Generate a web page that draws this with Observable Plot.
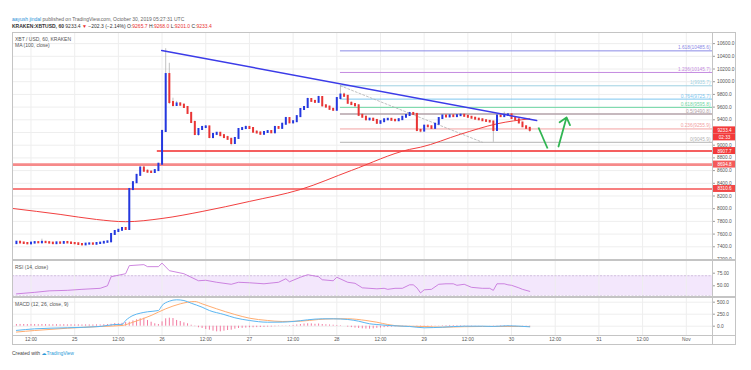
<!DOCTYPE html>
<html>
<head>
<meta charset="utf-8">
<script src="https://cdn.jsdelivr.net/npm/d3@7"></script>
<script src="https://cdn.jsdelivr.net/npm/@observablehq/plot@0.6"></script>
<style>
html,body{margin:0;padding:0;background:#fff;}
#root{position:relative;width:751px;height:370px;overflow:hidden;font-family:"Liberation Sans",Arial,sans-serif;}
.txt{position:absolute;white-space:nowrap;font-size:5px;line-height:6px;}
.pane{position:absolute;left:0;}
.ln{position:absolute;background:#c4c4c4;pointer-events:none;}
.red{color:#e8322f;}
</style>
</head>
<body>
<div id="root">
  <div class="txt" style="left:12px;top:16px;color:#666"><span style="color:#2b8fd6">aayush jindal</span> published on TradingView.com, October 30, 2019 05:27:31 UTC</div>
  <div class="txt" style="left:12px;top:23px;color:#333;font-weight:bold">KRAKEN:XBTUSD, 60 <span style="font-weight:normal">9233.4 <span class="red">▼</span> −202.3 (−2.14%) O:<span class="red">9265.7</span> H:<span class="red">9268.0</span> L:<span class="red">9201.0</span> C:<span class="red">9233.4</span></span></div>
  <div class="pane" id="mainPane" style="top:32px"></div>
  <div class="pane" id="rsiPane" style="top:260px"></div>
  <div class="pane" id="macdPane" style="top:297px"></div>
  <div class="txt" style="left:15px;top:36px;color:#555">XBT / USD, 60, KRAKEN</div>
  <div class="txt" style="left:15px;top:42px;color:#555">MA (100, close)</div>
  <div class="txt" style="left:15px;top:264px;color:#555">RSI (14, close)</div>
  <div class="txt" style="left:15px;top:301px;color:#555">MACD (12, 26, close, 9)</div>
  <div class="ln" style="left:12px;top:32px;width:724px;height:1px"></div>
  <div class="ln" style="left:12px;top:344px;width:724px;height:1px"></div>
  <div class="ln" style="left:12px;top:32px;width:1px;height:313px"></div>
  <div class="ln" style="left:735px;top:32px;width:1px;height:313px"></div>
  <div class="ln" style="left:712px;top:32px;width:1px;height:313px"></div>
  <div class="ln" style="left:12px;top:259px;width:724px;height:2px"></div>
  <div class="ln" style="left:12px;top:296px;width:724px;height:2px"></div>
  <div class="ln" style="left:12px;top:335px;width:724px;height:1px"></div>
  <div class="txt" style="left:12px;top:350px;color:#444">Created with <span style="color:#2b9ad8;font-family:'DejaVu Sans'">☁</span><span style="color:#2b9ad8">TradingView</span></div>
</div>
<script>
// ---------- DATA (hours counted from 24 Oct 2019 00:00 UTC) ----------
const hourTicks = [12, 24, 36, 48, 60, 72, 84, 96, 108, 120, 132, 144, 156, 168, 180, 192];
const hourTickLabels = ["12:00", "25", "12:00", "26", "12:00", "27", "12:00", "28", "12:00", "29", "12:00", "30", "12:00", "31", "12:00", "Nov"];
const priceTicks = [7200, 7400, 7600, 7800, 8000, 8200, 8400, 8600, 8800, 9000, 9200, 9400, 9600, 9800, 10000, 10200, 10400, 10600];
const rsiTicks = [50, 75];
const rsiTickLabels = ["50.00", "75.00"];
const rsiBand = [30, 70];
const macdTicks = [0, 250, 500];
const macdTickLabels = ["0.0", "250.0", "500.0"];

const candleStartHour = 8;
const candleOpen = [
  7450, 7472, 7460, 7452, 7446, 7458, 7466, 7462, 7470, 7465,
  7458, 7449, 7462, 7455, 7468, 7460, 7452, 7448, 7436, 7430,
  7442, 7446, 7440, 7452, 7458, 7470, 7478, 7594, 7641, 7660,
  7688, 7672, 8302, 8410, 8525, 8640, 8590, 8575, 8570, 8600,
  8700, 9216, 10113, 9672, 9625, 9650, 9630, 9594, 9500, 9358,
  9168, 9247, 9279, 9288, 9121, 9170, 9188, 9150, 9120, 9092,
  9027, 9106, 9247, 9262, 9280, 9263, 9205, 9192, 9172, 9200,
  9215, 9195, 9279, 9265, 9330, 9420, 9352, 9370, 9450, 9562,
  9594, 9720, 9690, 9675, 9751, 9620, 9600, 9565, 9550, 9735,
  9790, 9770, 9660, 9640, 9620, 9470, 9440, 9400, 9410, 9390,
  9345, 9370, 9400, 9408, 9392, 9385, 9402, 9440, 9468, 9500,
  9485, 9232, 9222, 9300, 9290, 9265, 9330, 9420, 9460, 9445,
  9462, 9450, 9465, 9472, 9455, 9440, 9425, 9410, 9400, 9385,
  9375, 9365, 9232, 9460, 9450, 9470, 9478, 9420, 9400, 9350,
  9290, 9265.7
];
const candleHigh = [
  7482, 7478, 7468, 7460, 7465, 7475, 7472, 7520, 7485, 7470,
  7462, 7470, 7466, 7478, 7472, 7464, 7458, 7452, 7440, 7450,
  7452, 7450, 7458, 7465, 7478, 7485, 7610, 7655, 7670, 7700,
  7695, 8320, 8425, 8540, 8660, 8665, 8610, 8600, 8615, 8715,
  9240, 10520, 10290, 9740, 9690, 9670, 9650, 9610, 9520, 9380,
  9260, 9300, 9310, 9300, 9185, 9200, 9200, 9170, 9140, 9110,
  9120, 9260, 9280, 9300, 9295, 9275, 9230, 9210, 9215, 9230,
  9225, 9300, 9290, 9345, 9440, 9430, 9385, 9465, 9575, 9610,
  9740, 9735, 9700, 9770, 9760, 9640, 9615, 9580, 9750, 9935,
  9820, 9780, 9680, 9655, 9640, 9490, 9460, 9420, 9420, 9400,
  9380, 9410, 9420, 9415, 9400, 9410, 9450, 9480, 9510, 9515,
  9495, 9250, 9310, 9315, 9300, 9340, 9430, 9475, 9470, 9475,
  9470, 9480, 9490, 9480, 9465, 9450, 9435, 9420, 9410, 9395,
  9385, 9380, 9475, 9470, 9520, 9495, 9485, 9440, 9410, 9360,
  9300, 9268
];
const candleLow = [
  7440, 7452, 7445, 7438, 7440, 7450, 7452, 7455, 7458, 7450,
  7440, 7445, 7448, 7450, 7452, 7445, 7440, 7425, 7420, 7425,
  7435, 7432, 7436, 7445, 7452, 7462, 7470, 7585, 7630, 7650,
  7660, 7665, 8280, 8395, 8510, 8580, 8560, 8555, 8562, 8590,
  8690, 9200, 9640, 9600, 9610, 9615, 9580, 9490, 9340, 9150,
  9140, 9230, 9260, 9100, 9095, 9150, 9140, 9110, 9080, 8990,
  9010, 9095, 9230, 9250, 9250, 9190, 9180, 9160, 9160, 9190,
  9185, 9185, 9250, 9255, 9320, 9340, 9330, 9360, 9440, 9545,
  9580, 9680, 9660, 9665, 9600, 9585, 9550, 9530, 9540, 9720,
  9760, 9650, 9630, 9605, 9450, 9430, 9385, 9380, 9380, 9330,
  9330, 9360, 9390, 9380, 9370, 9375, 9395, 9430, 9460, 9470,
  9210, 9195, 9215, 9280, 9250, 9255, 9320, 9410, 9435, 9440,
  9440, 9445, 9455, 9440, 9430, 9415, 9400, 9390, 9375, 9365,
  9355, 9046, 9225, 9440, 9445, 9460, 9410, 9390, 9340, 9280,
  9255, 9201
];
const candleClose = [
  7472, 7460, 7452, 7446, 7458, 7466, 7462, 7470, 7465, 7458,
  7449, 7462, 7455, 7468, 7460, 7452, 7448, 7436, 7430, 7442,
  7446, 7440, 7452, 7458, 7470, 7478, 7594, 7641, 7660, 7688,
  7672, 8302, 8410, 8525, 8640, 8590, 8575, 8570, 8600, 8700,
  9216, 10113, 9672, 9625, 9650, 9630, 9594, 9500, 9358, 9168,
  9247, 9279, 9288, 9121, 9170, 9188, 9150, 9120, 9092, 9027,
  9106, 9247, 9262, 9280, 9263, 9205, 9192, 9172, 9200, 9215,
  9195, 9279, 9265, 9330, 9420, 9352, 9370, 9450, 9562, 9594,
  9720, 9690, 9675, 9751, 9620, 9600, 9565, 9550, 9735, 9790,
  9770, 9660, 9640, 9620, 9470, 9440, 9400, 9410, 9390, 9345,
  9370, 9400, 9408, 9392, 9385, 9402, 9440, 9468, 9500, 9485,
  9232, 9222, 9300, 9290, 9265, 9330, 9420, 9460, 9445, 9462,
  9450, 9465, 9472, 9455, 9440, 9425, 9410, 9400, 9385, 9375,
  9365, 9232, 9460, 9450, 9470, 9478, 9420, 9400, 9350, 9290,
  9265, 9233.4
];

const maHours = [7, 20, 30, 38, 48, 59, 72, 86, 100, 116, 119, 130, 140, 149];
const maValues = [8003, 7910, 7830, 7795, 7846, 7956, 8114, 8302, 8602, 8934, 8968, 9173, 9337, 9416];

const trendHours = [47.9, 150.9];
const trendPrices = [10492, 9389];

const fibRatios = ["1.618", "1.236", "1", "0.764", "0.618", "0.5", "0.236", "0"];
const fibPrices = [10485.6, 10145.7, 9935.7, 9725.7, 9595.8, 9490.8, 9255.9, 9045.9];
const fibStartHour = 97;
const fibDiagHours = [97, 136];
const fibDiagPrices = [9935.7, 9045.9];

const supportLevels = [8907.7, 8694.8, 8310.6];
const supportStartHours = [46.7, 6.92, 6.92];

const boxLabels = ["9233.4", "02:33", "8907.7", "8694.8", "8310.6"];
const boxLevels = [9233.4, 9123, 8907.7, 8694.8, 8310.6];

const arrowDownHours = [151.4, 153.9];
const arrowDownPrices = [9279, 8948];
const arrowUpHours = [156.9, 159.1];
const arrowUpPrices = [8980, 9437];

const rsiHours = [8, 13, 17, 22, 26, 31, 33, 34, 36, 38, 39, 43, 44, 47, 48, 50, 54, 58, 60, 63, 67, 69, 72, 76, 80, 82, 83, 86, 88, 91, 92, 95, 96, 99, 101, 103, 107, 109, 110, 112, 114, 116, 117, 118, 119, 120, 122, 124, 126, 128, 129, 131, 133, 136, 138, 139, 140, 142, 143, 144, 146, 147, 149];
const rsiValues = [34, 37, 40, 41, 43, 45, 50, 68, 71, 74, 90, 92, 88, 88, 95, 80, 74, 60, 61, 57, 53, 57, 56, 54, 57, 64, 58, 67, 72, 68, 62, 60, 67, 57, 55, 46, 44, 45, 43, 45, 45, 52, 52, 46, 36, 42, 43, 53, 54, 54, 51, 53, 47, 45, 45, 41, 54, 54, 52, 51, 46, 43, 39];

const macdHours = [8, 13, 22, 31, 35, 37, 38, 40, 42, 44, 47, 48, 50, 52, 54, 56, 59, 61, 65, 68, 72, 77, 81, 84, 88, 92, 95, 99, 102, 105, 107, 110, 116, 120, 125, 131, 136, 139, 143, 149];
const macdValues = [-88, -55, -33, -6, 35, 38, 119, 223, 271, 300, 327, 431, 521, 550, 535, 479, 396, 327, 244, 175, 119, 83, 85, 98, 133, 154, 154, 140, 104, 50, 35, 15, -6, -33, -21, 0, 0, -5, 8, -13];
const signalHours = [8, 13, 22, 31, 37, 40, 45, 49, 53, 57, 59, 63, 68, 72, 77, 81, 86, 91, 95, 99, 104, 107, 110, 114, 120, 125, 131, 136, 143, 149];
const signalValues = [-122, -90, -42, -6, 15, 83, 223, 362, 466, 514, 466, 362, 244, 167, 119, 98, 104, 140, 154, 154, 119, 83, 35, 0, -6, -21, -10, -6, -6, -6];
const histValues = [
  34, 36, 35, 33, 36, 34, 32, 35, 33, 31,
  30, 32, 29, 31, 28, 30, 27, 29, 26, 28,
  27, 25, 28, 26, 30, 34, 40, 55, 50, 60,
  75, 83, 110, 133, 154, 167, 119, 83, 50, 35,
  90, 154, 167, 160, 119, 98, 70, 50, 20, -10,
  -33, -48, -70, -83, -104, -118, -118, -104, -90, -83,
  -62, -48, -45, -40, -33, -33, -30, -28, -25, -20,
  -18, -12, -8, -6, 5, 10, 15, 25, 35, 45,
  50, 48, 40, 45, 35, 30, 25, 20, 15, 10,
  0, -20, -30, -40, -48, -55, -60, -62, -55, -45,
  -40, -30, -25, -20, -15, -10, -8, -5, -3, -2,
  -12, -20, -22, -18, -12, -5, 5, 10, 12, 15,
  14, 12, 10, 8, 6, 5, 4, 3, 2, 0,
  -2, -8, 5, 10, 12, 12, 8, 4, 0, -4,
  -6, -8
];

// ---------- STYLE ----------
const W = 751;
const xDomain = [6.92, 199.2];
const xEnd = xDomain[1];
const grid = "#eeeeee";
const upColor = "#2438e0", downColor = "#ea3434";
const fibColors = ["#8a8ae6", "#c48ae0", "#9fd2e2", "#7cc6ef", "#6fd6a4", "#b3a2a8", "#f2a2a2", "#b3b3b3"];
const supportColors = ["#f22a2a", "#f68a8a", "#f45555"];
const supportWidths = [1.5, 2.6, 1.5];
const boxColors = ["#f23a3a", "#f23a3a", "#f23a3a", "#f45a5a", "#f24848"];
const fontStyle = {background: "transparent", fontFamily: "'Liberation Sans', Arial, sans-serif", fontSize: "5px", overflow: "visible"};
const common = {width: W, marginLeft: 12, marginRight: 39, marginTop: 0, x: {domain: xDomain, axis: null}, style: fontStyle};

const candles = candleOpen.map((o, i) => ({t: candleStartHour + i, o, h: candleHigh[i], l: candleLow[i], c: candleClose[i]}));
const ma = maHours.map((t, i) => ({t, v: maValues[i]}));
const trend = trendHours.map((t, i) => ({t, v: trendPrices[i]}));
const fibDiag = fibDiagHours.map((t, i) => ({t, v: fibDiagPrices[i]}));
const boxes = boxLabels.map((label, i) => ({label, y: boxLevels[i], color: boxColors[i]}));
const boxHalf = 55;
// price-axis labels hidden under the red value boxes are not drawn (as in the reference)
const visiblePriceTicks = priceTicks.filter(p => boxLevels.every(b => Math.abs(b - p) > 60));

const main = Plot.plot({
  ...common, height: 228, marginBottom: 0,
  y: {domain: [7184, 10775], axis: null},
  marks: [
    Plot.ruleY(priceTicks, {y: d => d, stroke: grid}),
    Plot.ruleX(hourTicks, {x: d => d, stroke: grid}),
    Plot.ruleY(fibPrices, {y: d => d, x1: () => fibStartHour, x2: () => xEnd, stroke: (d, i) => fibColors[i], strokeWidth: (d, i) => i === 5 ? 1.6 : 1}),
    Plot.text(fibPrices, {x: () => xEnd, y: d => d, text: (d, i) => `${fibRatios[i]}(${d.toFixed(1)})`, textAnchor: "end", dx: -2, dy: -3, fill: (d, i) => fibColors[i], fontSize: 4.8}),
    Plot.line(fibDiag, {x: "t", y: "v", stroke: "#b0b0b0", strokeWidth: 0.8, strokeDasharray: "2,2"}),
    Plot.ruleY(supportLevels, {y: d => d, x1: (d, i) => supportStartHours[i], x2: () => xEnd, stroke: (d, i) => supportColors[i], strokeWidth: (d, i) => supportWidths[i]}),
    Plot.line(ma, {x: "t", y: "v", stroke: "#f24040", strokeWidth: 1, curve: "monotone-x"}),
    Plot.ruleX(candles, {x: "t", y1: "l", y2: "h", stroke: "#9a9a9a", strokeWidth: 0.6}),
    Plot.ruleX(candles, {x: "t", y1: "o", y2: "c", stroke: d => d.c >= d.o ? upColor : downColor, strokeWidth: 2, strokeLinecap: "square"}),
    Plot.line(trend, {x: "t", y: "v", stroke: "#3b3be8", strokeWidth: 1.5}),
    Plot.link([0], {x1: () => arrowDownHours[0], y1: () => arrowDownPrices[0], x2: () => arrowDownHours[1], y2: () => arrowDownPrices[1], stroke: "#30b552", strokeWidth: 1.8}),
    Plot.arrow([0], {x1: () => arrowUpHours[0], y1: () => arrowUpPrices[0], x2: () => arrowUpHours[1], y2: () => arrowUpPrices[1], stroke: "#30b552", strokeWidth: 1.8, headLength: 7, headAngle: 80}),
    Plot.ruleY(priceTicks, {y: d => d, x1: () => xEnd, x2: () => xEnd + 0.8, stroke: "#999"}),
    Plot.text(visiblePriceTicks, {x: () => xEnd, y: d => d, text: d => d.toFixed(1), textAnchor: "start", dx: 4.5, fill: "#555", fontSize: 4.8}),
    Plot.rect(boxes, {x1: () => xEnd + 0.15, x2: () => xEnd + 6.5, y1: d => d.y - boxHalf, y2: d => d.y + boxHalf, fill: "color"}),
    Plot.text(boxes, {x: () => xEnd + 3.3, y: "y", text: "label", fill: "white", fontSize: 4.6})
  ]
});
document.getElementById("mainPane").appendChild(main);

const rsi = rsiHours.map((t, i) => ({t, v: rsiValues[i]}));
const rsiPlot = Plot.plot({
  ...common, height: 37, marginBottom: 0,
  y: {domain: [26.8, 100.2], axis: null},
  marks: [
    Plot.rect([0], {x1: () => xDomain[0], x2: () => xEnd, y1: () => rsiBand[0], y2: () => rsiBand[1], fill: "#f3e7fc"}),
    Plot.ruleX(hourTicks, {x: d => d, stroke: grid}),
    Plot.ruleY(rsiBand, {y: d => d, stroke: "#c4b2d2", strokeWidth: 0.7, strokeDasharray: "2,1.5"}),
    Plot.line(rsi, {x: "t", y: "v", stroke: "#c268d8", strokeWidth: 0.8}),
    Plot.ruleY(rsiTicks, {y: d => d, x1: () => xEnd, x2: () => xEnd + 0.8, stroke: "#999"}),
    Plot.text(rsiTicks, {x: () => xEnd, y: d => d, text: (d, i) => rsiTickLabels[i], textAnchor: "start", dx: 4.5, fill: "#555", fontSize: 4.8})
  ]
});
document.getElementById("rsiPane").appendChild(rsiPlot);

const macd = macdHours.map((t, i) => ({t, v: macdValues[i]}));
const signal = signalHours.map((t, i) => ({t, v: signalValues[i]}));
const hist = histValues.map((v, i) => ({t: candleStartHour + i, v}));
const macdPlot = Plot.plot({
  ...common, height: 48, marginBottom: 10,
  y: {domain: [-194, 598], axis: null},
  marks: [
    Plot.ruleY(macdTicks, {y: d => d, stroke: grid}),
    Plot.ruleX(hourTicks, {x: d => d, stroke: grid}),
    Plot.ruleX(hist, {x: "t", y1: () => 0, y2: "v", stroke: "#f27aa0", strokeWidth: 1}),
    Plot.line(signal, {x: "t", y: "v", stroke: "#ffac70", strokeWidth: 1, curve: "monotone-x"}),
    Plot.line(macd, {x: "t", y: "v", stroke: "#5ab6f2", strokeWidth: 1, curve: "monotone-x"}),
    Plot.ruleY(macdTicks, {y: d => d, x1: () => xEnd, x2: () => xEnd + 0.8, stroke: "#999"}),
    Plot.text(macdTicks, {x: () => xEnd, y: d => d, text: (d, i) => macdTickLabels[i], textAnchor: "start", dx: 4.5, fill: "#555", fontSize: 4.8}),
    Plot.text(hourTicks, {x: d => d, text: (d, i) => hourTickLabels[i], frameAnchor: "bottom", dy: 5, fill: "#555", fontSize: 4.8})
  ]
});
document.getElementById("macdPane").appendChild(macdPlot);
</script>
</body>
</html>
